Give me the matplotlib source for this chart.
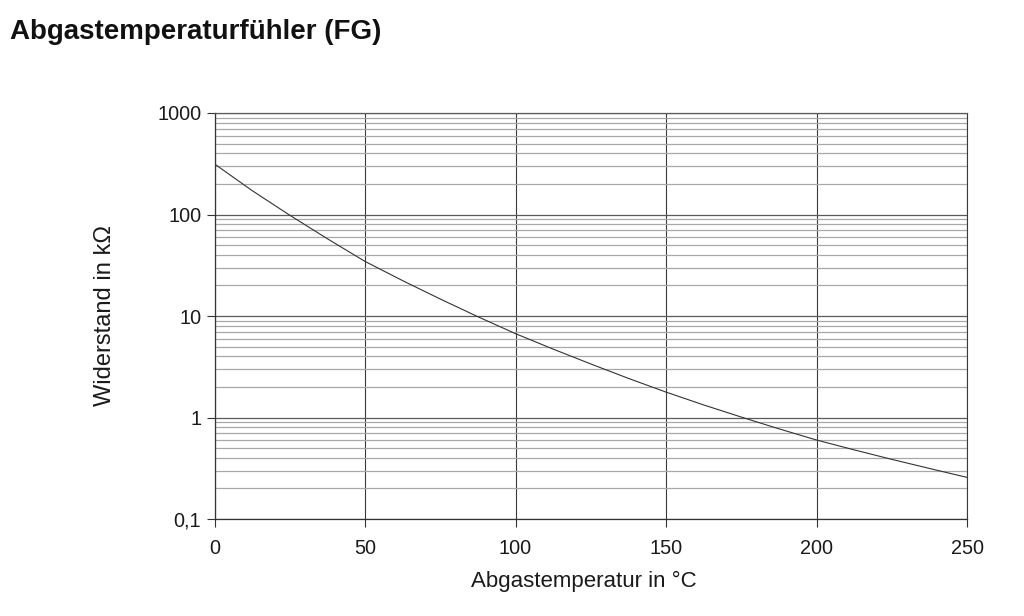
import matplotlib
matplotlib.use("Agg")
import matplotlib.pyplot as plt
from matplotlib.ticker import FixedLocator, NullFormatter, LogLocator

plt.rcParams['font.family'] = ['Liberation Sans', 'DejaVu Sans']

# Data
temperature_c = [0, 12.5, 25, 37.5, 50, 62.5, 75, 87.5, 100, 112.5, 125, 137.5,
                 150, 162.5, 175, 187.5, 200, 212.5, 225, 237.5, 250]
resistance_kohm = [315, 172, 98.4, 57.7, 34.5, 22.3, 14.7, 9.84, 6.7, 4.72, 3.37, 2.43,
                   1.78, 1.33, 1.01, 0.774, 0.60, 0.48, 0.387, 0.315, 0.257]

x_ticks = [0, 50, 100, 150, 200, 250]
y_ticks = [0.1, 1, 10, 100, 1000]
y_tick_labels = ["0,1", "1", "10", "100", "1000"]

title = "Abgastemperaturfühler (FG)"
x_label = "Abgastemperatur in °C"
y_label = "Widerstand in kΩ"

W, H = 1024, 616
fig = plt.figure(figsize=(W / 100, H / 100), dpi=100)
fig.patch.set_facecolor("white")

left, right, top, bottom = 214.5, 967, 113, 519
ax = fig.add_axes([left / W, 1 - bottom / H, (right - left) / W, (bottom - top) / H])

ax.set_yscale("log")
ax.set_xlim(0, 250)
ax.set_ylim(0.1, 1000)

# grid lines
ax.yaxis.set_minor_locator(LogLocator(base=10, subs=range(2, 10)))
ax.yaxis.set_minor_formatter(NullFormatter())
ax.grid(which="minor", axis="y", color="#a8a8a8", linewidth=0.9, zorder=1)
ax.grid(which="major", axis="y", color="#5a5a5a", linewidth=0.9, zorder=1)
ax.grid(which="major", axis="x", color="#3a3a3a", linewidth=0.8, zorder=1)

ax.plot(temperature_c, resistance_kohm, color="#333333", linewidth=0.8, zorder=3,
        solid_joinstyle="round")

ax.xaxis.set_major_locator(FixedLocator(x_ticks))
ax.set_xticklabels([str(v) for v in x_ticks])
ax.yaxis.set_major_locator(FixedLocator(y_ticks))
ax.set_yticklabels(y_tick_labels)

ax.tick_params(axis="both", which="major", direction="out", length=5.5, width=0.8,
               color="#333333", labelsize=14.3, labelcolor="#1a1a1a")
ax.tick_params(axis="x", which="major", pad=9)
ax.tick_params(axis="y", which="major", pad=4)
ax.tick_params(axis="y", which="minor", length=0)

for side in ["left", "bottom"]:
    ax.spines[side].set_color("#333333")
    ax.spines[side].set_linewidth(0.9)
ax.spines["top"].set_color("#5a5a5a")
ax.spines["top"].set_linewidth(0.9)
ax.spines["right"].set_color("#3a3a3a")
ax.spines["right"].set_linewidth(0.8)

fig.text(584 / W, 1 - 581 / H, x_label, fontsize=16, color="#1a1a1a",
         ha="center", va="center")
fig.text(105 / W, 1 - 316 / H, y_label, fontsize=17, color="#1a1a1a",
         ha="center", va="center", rotation=90)
fig.text(10 / W, 1 - 39 / H, title, fontsize=20, fontweight="bold", color="#111111",
         ha="left", va="baseline")

fig.savefig("out.png", dpi=100, facecolor="white")
